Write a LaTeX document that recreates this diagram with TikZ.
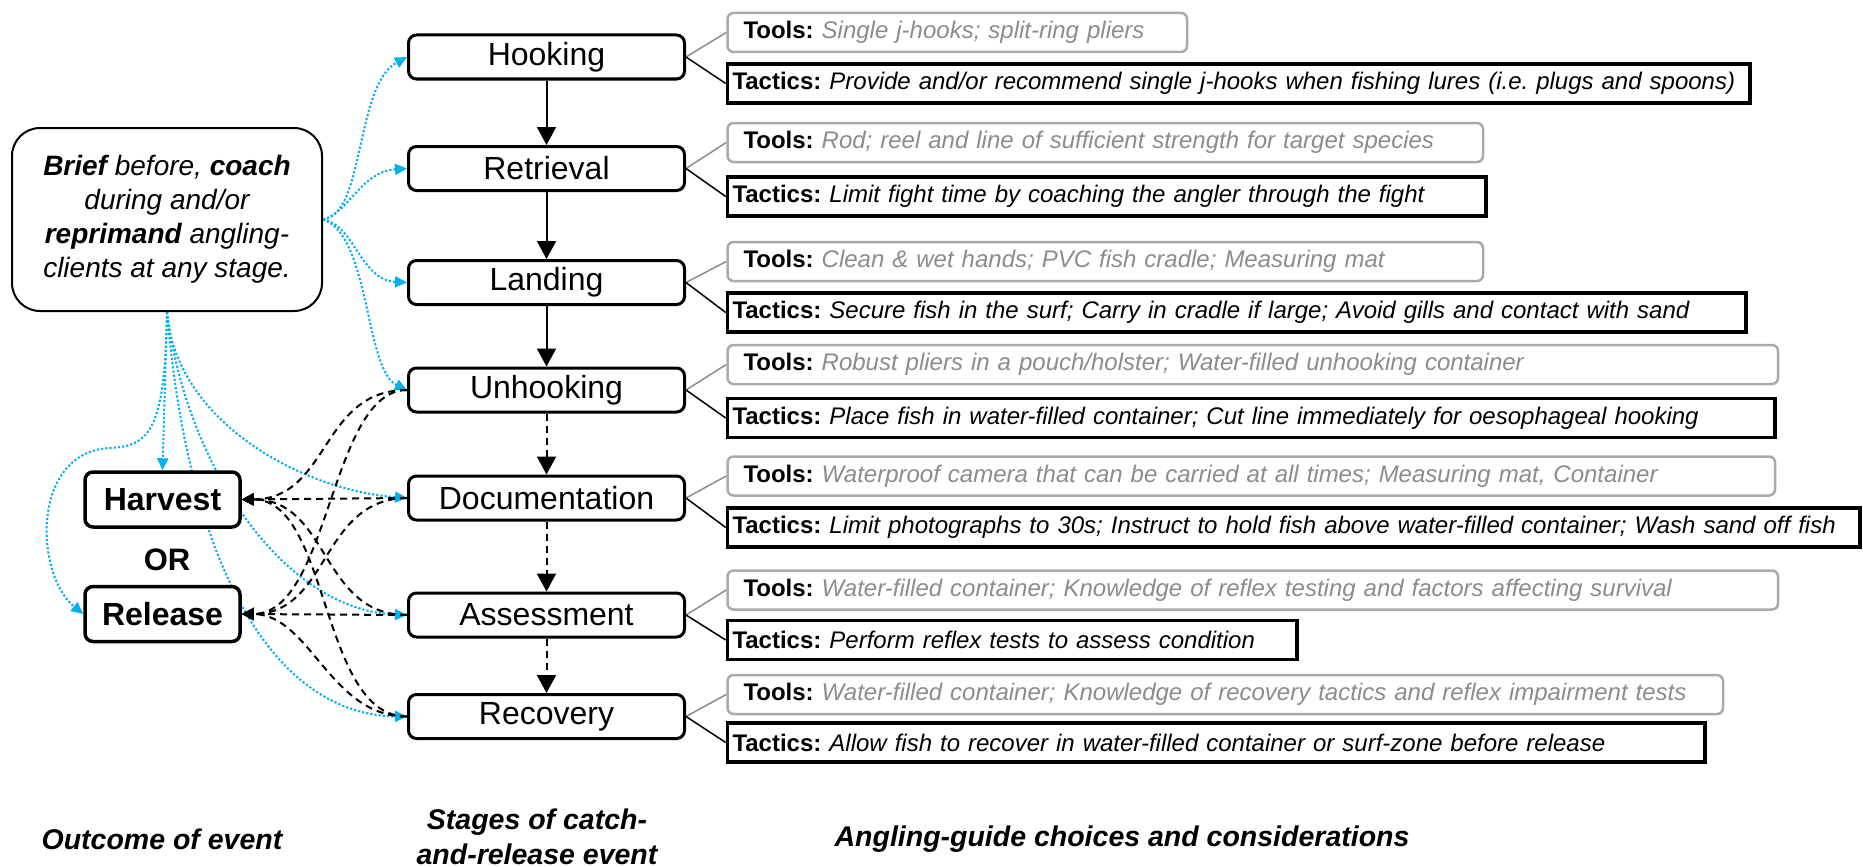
\documentclass[tikz,border=0pt]{standalone}
\usepackage{fontspec}
\setmainfont{Liberation Sans}
\usetikzlibrary{arrows.meta}
\definecolor{cyanb}{RGB}{0,176,240}
\definecolor{toolgray}{RGB}{170,170,170}
\definecolor{tooltext}{RGB}{140,140,140}
\pgfdeclarelayer{bg}
\pgfsetlayers{bg,main}
\frenchspacing
\begin{document}
\begin{tikzpicture}[x=1pt,y=-1pt,
  stagebox/.style={draw, fill=white, line width=3pt, rounded corners=8pt, minimum width=276pt, minimum height=44pt, inner sep=0pt, font=\fontsize{32}{38}\selectfont},
  outbox/.style={draw, fill=white, line width=3.5pt, rounded corners=8pt, minimum width=155pt, minimum height=55pt, inner sep=0pt, font=\fontsize{32}{38}\selectfont\bfseries},
  briefbox/.style={draw, fill=white, line width=2pt, rounded corners=28pt, minimum width=310pt, minimum height=183pt, inner sep=0pt, align=center, font=\fontsize{28}{34}\selectfont\itshape},
  toolbox/.style={draw=toolgray, fill=white, line width=2.5pt, rounded corners=6pt, anchor=west, minimum height=39pt, inner xsep=16pt, inner ysep=0pt, align=left, text=tooltext, font=\fontsize{24}{29}\selectfont},
  tactbox/.style={draw=black, fill=white, line width=3.5pt, anchor=west, minimum height=39pt, inner xsep=5pt, inner ysep=0pt, align=left, font=\fontsize{24}{29}\selectfont},
  foot/.style={align=center, font=\fontsize{28.5}{35}\selectfont\bfseries\itshape},
  flow/.style={draw, line width=2pt, -{Triangle[length=18pt,width=19pt]}},
  flowd/.style={flow, dash pattern=on 7pt off 5pt},
  bluearr/.style={draw=cyanb, line width=2pt, dash pattern=on 2.2pt off 2pt, -{Triangle[length=12pt,width=11pt,fill=cyanb]}},
  dasharr/.style={draw, line width=2pt, dash pattern=on 7pt off 5pt, -{Triangle[length=12pt,width=12pt]}},
  toolline/.style={draw=tooltext, line width=1.5pt},
  tactline/.style={draw, line width=1.5pt}]
\useasboundingbox (0,0) rectangle (1863,867);

% stages
\node[stagebox] (hook) at (546.5,57) {Hooking};
\node[stagebox] (retr) at (546.5,168.5) {Retrieval};
\node[stagebox] (land) at (546.5,282.5) {Landing};
\node[stagebox] (unh) at (546.5,390) {Unhooking};
\node[stagebox] (doc) at (546.5,498) {Documentation};
\node[stagebox] (ass) at (546.5,615) {Assessment};
\node[stagebox] (rec) at (546.5,716.5) {Recovery};

% left side
\node[briefbox] (brief) at (167,219.5) {\textbf{Brief} before, \textbf{coach}\\during and/or\\\textbf{reprimand} angling-\\clients at any stage.};
\node[outbox] (harv) at (162.5,499.5) {Harvest};
\node[outbox] (rel) at (162.5,614) {Release};
\node[font=\fontsize{31}{36}\selectfont\bfseries] (or) at (167,560) {OR};

% tools and tactics
\node[toolbox, text width=427.5pt] (hookT) at (726.25,32.5) {\textcolor{black}{\textbf{Tools:}} \textit{Single j-hooks; split-ring pliers}};
\node[tactbox, text width=1012.5pt] (hookK) at (725.75,83.5) {\textbf{Tactics:} \textit{Provide and/or recommend single j-hooks when fishing lures (i.e. plugs and spoons)}};
\node[toolbox, text width=723.5pt] (retrT) at (726.25,142.5) {\textcolor{black}{\textbf{Tools:}} \textit{Rod; reel and line of sufficient strength for target species}};
\node[tactbox, text width=748.5pt] (retrK) at (725.75,196.5) {\textbf{Tactics:} \textit{Limit fight time by coaching the angler through the fight}};
\node[toolbox, text width=723.5pt] (landT) at (726.25,261.5) {\textcolor{black}{\textbf{Tools:}} \textit{Clean \& wet hands; PVC fish cradle; Measuring mat}};
\node[tactbox, text width=1008.5pt] (landK) at (725.75,312.5) {\textbf{Tactics:} \textit{Secure fish in the surf; Carry in cradle if large; Avoid gills and contact with sand}};
\node[toolbox, text width=1018.5pt] (unhT) at (726.25,364.5) {\textcolor{black}{\textbf{Tools:}} \textit{Robust pliers in a pouch/holster; Water-filled unhooking container}};
\node[tactbox, text width=1037.5pt] (unhK) at (725.75,418) {\textbf{Tactics:} \textit{Place fish in water-filled container; Cut line immediately for oesophageal hooking}};
\node[toolbox, text width=1015.5pt] (docT) at (726.25,476) {\textcolor{black}{\textbf{Tools:}} \textit{Waterproof camera that can be carried at all times; Measuring mat, Container}};
\node[tactbox, text width=1122.5pt] (docK) at (725.75,527.5) {\textbf{Tactics:} \textit{Limit photographs to 30s; Instruct to hold fish above water-filled container; Wash sand off fish}};
\node[toolbox, text width=1018.5pt] (assT) at (726.25,590) {\textcolor{black}{\textbf{Tools:}} \textit{Water-filled container; Knowledge of reflex testing and factors affecting survival}};
\node[tactbox, text width=559.5pt] (assK) at (725.75,640) {\textbf{Tactics:} \textit{Perform reflex tests to assess condition}};
\node[toolbox, text width=963.5pt] (recT) at (726.25,694.5) {\textcolor{black}{\textbf{Tools:}} \textit{Water-filled container; Knowledge of recovery tactics and reflex impairment tests}};
\node[tactbox, text width=967.5pt] (recK) at (725.75,742.5) {\textbf{Tactics:} \textit{Allow fish to recover in water-filled container or surf-zone before release}};

% footer
\node[foot] (f1) at (162,839) {Outcome of event};
\node[foot] (f2) at (537,837) {Stages of catch-\\and-release event};
\node[foot] (f3) at (1122,839) {Angling-guide choices and considerations};

\begin{pgfonlayer}{bg}
% stage flow
\draw[flow] (hook.south) -- (retr.north);
\draw[flow] (retr.south) -- (land.north);
\draw[flow] (land.south) -- (unh.north);
\draw[flowd] (unh.south) -- (doc.north);
\draw[flowd] (doc.south) -- (ass.north);
\draw[flowd] (ass.south) -- (rec.north);
% tools/tactics links
\foreach \s in {hook,retr,land,unh,doc,ass,rec}{
  \draw[toolline] (\s.east) -- (\s T.west);
  \draw[tactline] (\s.east) -- (\s K.west);
}
% blue dotted guidance arrows
\draw[bluearr] (brief.east) .. controls (365,215) and (355,85) .. (hook.west);
\draw[bluearr] (brief.east) .. controls (350,212) and (360,172) .. (retr.west);
\draw[bluearr] (brief.east) .. controls (355,225) and (360,280) .. (land.west);
\draw[bluearr] (brief.east) .. controls (370,235) and (365,370) .. (unh.west);
\draw[bluearr] (brief.south) -- (harv.north);
\draw[bluearr] (brief.south) .. controls (165,430) and (150,446) .. (110,448) .. controls (30,452) and (35,575) .. (rel.west);
\draw[bluearr] (brief.south) .. controls (175,420) and (300,490) .. (doc.west);
\draw[bluearr] (brief.south) .. controls (185,460) and (280,610) .. (ass.west);
\draw[bluearr] (brief.south) .. controls (190,580) and (280,715) .. (rec.west);
% dashed outcome arrows
\draw[dasharr] (unh.west) .. controls (320,390) and (330,499) .. (harv.east);
\draw[dasharr] (unh.west) .. controls (330,390) and (330,614) .. (rel.east);
\draw[dasharr] (doc.west) -- (harv.east);
\draw[dasharr] (doc.west) .. controls (320,499) and (330,614) .. (rel.east);
\draw[dasharr] (ass.west) .. controls (320,615) and (330,499) .. (harv.east);
\draw[dasharr] (ass.west) -- (rel.east);
\draw[dasharr] (rec.west) .. controls (320,717) and (330,499) .. (harv.east);
\draw[dasharr] (rec.west) .. controls (330,717) and (310,614) .. (rel.east);
\end{pgfonlayer}
\end{tikzpicture}
\end{document}
